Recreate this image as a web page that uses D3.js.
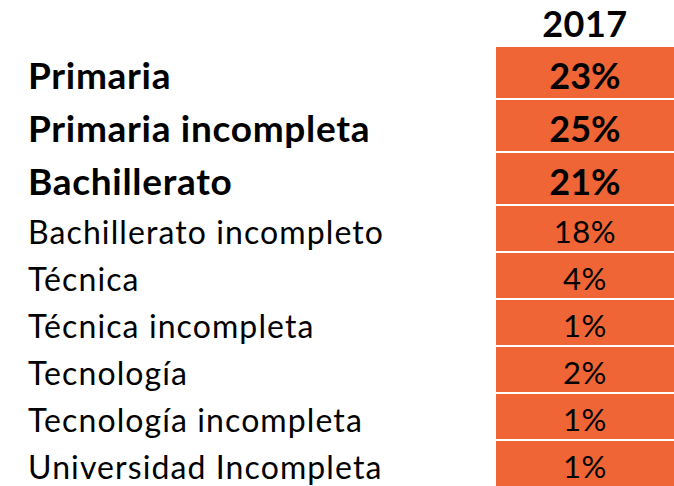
<!DOCTYPE html>
<html>
<head>
<meta charset="utf-8">
<script src="https://cdn.jsdelivr.net/npm/d3@7"></script>
<style>
  body { margin: 0; background: #fff; }
  text { font-family: Lato, "Open Sans", sans-serif; }
</style>
</head>
<body>
<script>
const year = "2017";
const niveles = [
  "Primaria",
  "Primaria incompleta",
  "Bachillerato",
  "Bachillerato incompleto",
  "Técnica",
  "Técnica incompleta",
  "Tecnología",
  "Tecnología incompleta",
  "Universidad Incompleta"
];
const valores = [23, 25, 21, 18, 4, 1, 2, 1, 1];

let width = 674;
let height = 486;

let svg = d3.select("body").append("svg")
  .attr("width", width)
  .attr("height", height);

// rows with the larger shares are shown bigger and bold
let isBig = (v) => v >= 20;
let rowH = (v) => (isBig(v) ? 53 : 47);
let labelSize = (v) => (isBig(v) ? 37 : 32);
let valueSize = (v) => (isBig(v) ? 36 : 31);

// cumulative row positions
let tops = [];
let acc = 47;
valores.forEach((v) => { tops.push(acc); acc += rowH(v); });

let y = d3.scaleOrdinal().domain(niveles).range(tops);
let x = d3.scaleLinear().domain([0, 1]).range([496, 674]);

// baseline so the caps sit a bit below the middle of the row
let baseline = (d, size) => y(d.nivel) + rowH(d.valor) / 2 + size * 0.36 + 2.5;

// header
svg.append("text")
  .attr("x", (x(0) + x(1)) / 2)
  .attr("y", 36.5)
  .attr("text-anchor", "middle")
  .style("font-weight", "bold")
  .style("font-size", "36px")
  .style("letter-spacing", "0.5px")
  .style("fill", "#000")
  .text(year);

let rows = svg.selectAll(".row")
  .data(niveles.map((n, i) => ({ nivel: n, valor: valores[i] })))
  .enter()
  .append("g")
  .attr("class", "row");

rows.append("rect")
  .attr("x", x(0))
  .attr("y", (d) => y(d.nivel))
  .attr("width", x(1) - x(0))
  .attr("height", (d) => rowH(d.valor) - 2)
  .attr("fill", "#F06535");

rows.append("text")
  .attr("x", (x(0) + x(1)) / 2)
  .attr("y", (d) => baseline(d, valueSize(d.valor)))
  .attr("text-anchor", "middle")
  .style("font-weight", (d) => (isBig(d.valor) ? "bold" : "normal"))
  .style("font-size", (d) => valueSize(d.valor) + "px")
  .style("letter-spacing", (d) => (isBig(d.valor) ? "0px" : "0.5px"))
  .style("fill", "#000")
  .text((d) => d3.format("d")(d.valor) + "%");

rows.append("text")
  .attr("x", 28)
  .attr("y", (d) => baseline(d, labelSize(d.valor)))
  .style("font-weight", (d) => (isBig(d.valor) ? "bold" : "normal"))
  .style("font-size", (d) => labelSize(d.valor) + "px")
  .style("letter-spacing", (d) => (isBig(d.valor) ? "0.7px" : "1.1px"))
  .style("fill", "#000")
  .text((d) => d.nivel);
</script>
</body>
</html>
